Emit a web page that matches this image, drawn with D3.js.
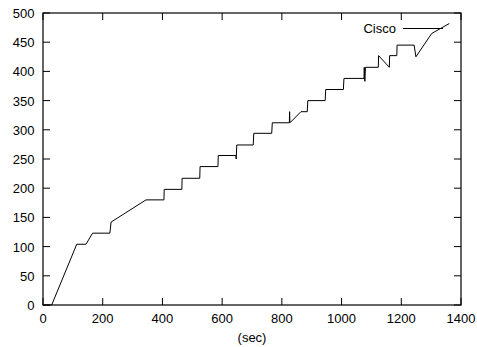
<!DOCTYPE html>
<html>
<head>
<meta charset="utf-8">
<script src="https://cdn.jsdelivr.net/npm/d3@7"></script>
<style>
  html, body { margin: 0; padding: 0; background: #fff; }
  svg { display: block; }
  text { font-family: "Liberation Sans", Arial, sans-serif; font-size: 13px; fill: #000; }
</style>
</head>
<body>
<script>
// Data
const seriesName = "Cisco";
const timeSec = [0, 29, 113, 144, 166, 224, 228, 345, 405, 406, 465, 466, 525, 526, 586, 587,
  646, 647, 649, 704, 706, 766, 768, 825, 826, 827, 864, 885, 887, 945, 947, 1006, 1008,
  1075, 1076, 1078, 1080, 1123, 1124, 1160, 1161, 1185, 1186, 1243, 1249, 1302, 1361];
const values = [0, 0, 104, 104, 123, 123, 142, 180, 180, 198, 198, 217, 217, 237, 237, 256,
  256, 250, 274, 274, 294, 294, 312, 312, 331, 312, 331, 331, 350, 350, 369, 369, 388,
  388, 407, 383, 407, 407, 427, 407, 427, 427, 445, 445, 425, 465, 482];
const xTicks = [0, 200, 400, 600, 800, 1000, 1200, 1400];
const yTicks = [0, 50, 100, 150, 200, 250, 300, 350, 400, 450, 500];
const xLabel = "(sec)";

const W = 477, H = 347;
const m = { left: 43, right: 16, top: 13, bottom: 42 };
const svg = d3.select("body").append("svg").attr("width", W).attr("height", H);

const x = d3.scaleLinear().domain([0, 1400]).range([m.left, W - m.right]);
const y = d3.scaleLinear().domain([0, 500]).range([H - m.bottom, m.top]);
const tick = 7;

const g = svg.append("g");
// ticks (mirrored, inward)
xTicks.forEach(t => {
  g.append("line").attr("x1", x(t)).attr("x2", x(t)).attr("y1", y(0)).attr("y2", y(0) - tick).attr("stroke", "#000");
  g.append("line").attr("x1", x(t)).attr("x2", x(t)).attr("y1", y(500)).attr("y2", y(500) + tick).attr("stroke", "#000");
  g.append("text").attr("x", x(t)).attr("y", y(0) + 18).attr("text-anchor", "middle").text(t);
});
yTicks.forEach(t => {
  g.append("line").attr("x1", x(0)).attr("x2", x(0) + tick).attr("y1", y(t)).attr("y2", y(t)).attr("stroke", "#000");
  g.append("line").attr("x1", x(1400)).attr("x2", x(1400) - tick).attr("y1", y(t)).attr("y2", y(t)).attr("stroke", "#000");
  g.append("text").attr("x", x(0) - 8.5).attr("y", y(t) + 5).attr("text-anchor", "end").text(t);
});
// border
g.append("rect").attr("x", x(0)).attr("y", y(500)).attr("width", x(1400) - x(0)).attr("height", y(0) - y(500))
  .attr("fill", "none").attr("stroke", "#000").attr("stroke-width", 1.2);

g.append("text").attr("x", (x(0) + x(1400)) / 2).attr("y", H - 5).attr("text-anchor", "middle").text(xLabel);

// series
const pts = timeSec.map((t, i) => [t, values[i]]);
const line = d3.line().x(d => x(d[0])).y(d => y(d[1]));
svg.append("path").datum(pts).attr("d", line).attr("fill", "none").attr("stroke", "#000").attr("stroke-width", 1);

// legend
svg.append("text").attr("x", 396).attr("y", 33).attr("text-anchor", "end").text(seriesName);
svg.append("line").attr("x1", 403).attr("x2", 443).attr("y1", 28.5).attr("y2", 28.5).attr("stroke", "#000");
</script>
</body>
</html>
